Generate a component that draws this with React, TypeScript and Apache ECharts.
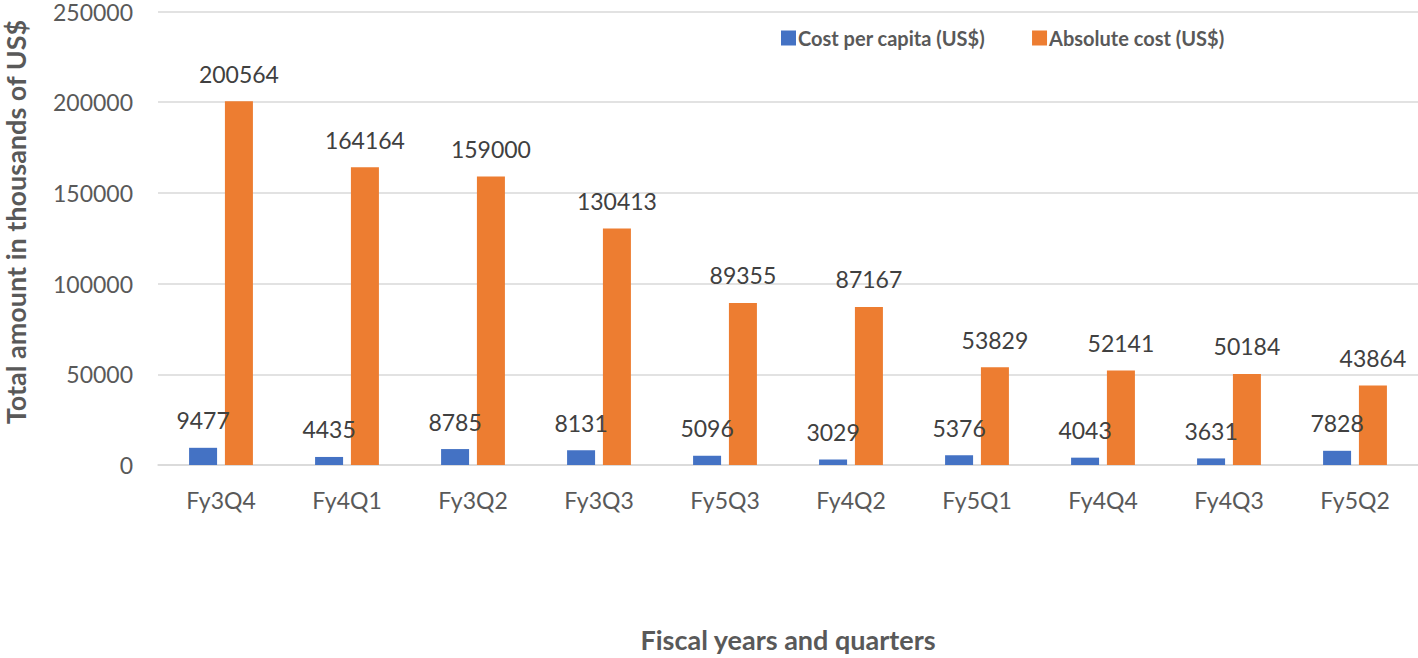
import React, { useEffect, useRef } from "react";
import * as echarts from "echarts";

const categories = ["Fy3Q4", "Fy4Q1", "Fy3Q2", "Fy3Q3", "Fy5Q3", "Fy4Q2", "Fy5Q1", "Fy4Q4", "Fy4Q3", "Fy5Q2"];
const costPerCapita = [9477, 4435, 8785, 8131, 5096, 3029, 5376, 4043, 3631, 7828];
const absoluteCost = [200564, 164164, 159000, 130413, 89355, 87167, 53829, 52141, 50184, 43864];
const seriesNames = ["Cost per capita (US$)", "Absolute cost (US$)"];
const yAxisTitle = "Total amount in thousands of US$";
const xAxisTitle = "Fiscal years and quarters";

const FONT = "Lato, 'Open Sans', sans-serif";

export default function App() {
  const ref = useRef<HTMLDivElement>(null);
  useEffect(() => {
    if (!ref.current) return;
    const chart = echarts.init(ref.current, null, { renderer: "svg" });
    const label = {
      show: true,
      position: "top",
      distance: 16,
      fontFamily: FONT,
      fontSize: 23,
      color: "#404040",
    };
    chart.setOption({
      animation: false,
      textStyle: { fontFamily: FONT },
      grid: { left: 158, right: 0, top: 9, bottom: 190 },
      legend: {
        left: 776,
        top: 23,
        itemWidth: 15,
        itemHeight: 15,
        itemGap: 47,
        icon: "rect",
        textStyle: { fontFamily: FONT, fontSize: 20, fontWeight: "bold", color: "#595959", padding: [0, 0, 0, -3] },
        data: seriesNames,
      },
      graphic: [
        {
          type: "text",
          x: 15,
          y: 222,
          rotation: Math.PI / 2,
          style: {
            text: yAxisTitle,
            fontFamily: FONT,
            fontSize: 27,
            fontWeight: "bold",
            fill: "#595959",
            textAlign: "center",
            textVerticalAlign: "middle",
          },
        },
      ],
      xAxis: {
        type: "category",
        data: categories,
        axisTick: { show: false },
        axisLine: { lineStyle: { color: "#d9d9d9", width: 1.5 } },
        axisLabel: { fontFamily: FONT, fontSize: 23, color: "#595959", margin: 23 },
        name: xAxisTitle,
        nameLocation: "middle",
        nameGap: 161,
        nameTextStyle: { fontFamily: FONT, fontSize: 27, fontWeight: "bold", color: "#595959" },
      },
      yAxis: {
        type: "value",
        min: 0,
        max: 250000,
        interval: 50000,
        axisLine: { show: false },
        axisTick: { show: false },
        splitLine: { lineStyle: { color: "#d9d9d9", width: 1.5 } },
        axisLabel: {
          fontFamily: FONT,
          fontSize: 23,
          color: "#595959",
          margin: 25,
          formatter: (v: number) => String(v),
        },
      },
      series: [
        {
          name: seriesNames[0],
          type: "bar",
          data: costPerCapita,
          barWidth: 28,
          barGap: "28%",
          itemStyle: { color: "#4472C4" },
          label,
        },
        {
          name: seriesNames[1],
          type: "bar",
          data: absoluteCost,
          barWidth: 28,
          barGap: "28%",
          itemStyle: { color: "#ED7D31" },
          label,
        },
      ],
    });
    return () => chart.dispose();
  }, []);
  return (
    <div
      ref={ref}
      style={{ position: "fixed", left: 0, top: 0, width: 1418, height: 658, background: "#fff" }}
    />
  );
}
